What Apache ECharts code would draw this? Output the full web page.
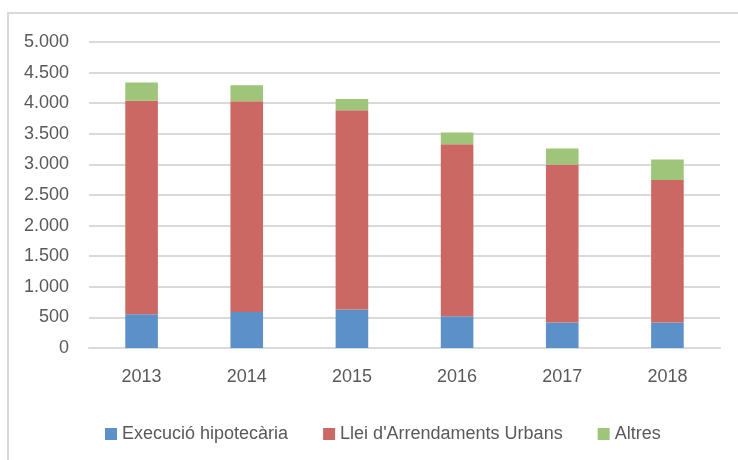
<!DOCTYPE html>
<html>
<head>
<meta charset="utf-8">
<script src="https://cdn.jsdelivr.net/npm/echarts@6/dist/echarts.min.js"></script>
<style>
  html, body { margin: 0; padding: 0; background: #fff; }
  #chart { width: 738px; height: 460px; }
</style>
</head>
<body>
<div id="chart"></div>
<script>
const years = ["2013", "2014", "2015", "2016", "2017", "2018"];
const seriesNames = ["Execució hipotecària", "Llei d'Arrendaments Urbans", "Altres"];
const execucio = [550, 590, 630, 520, 415, 415];
const llei = [3490, 3440, 3255, 2810, 2585, 2330];
const altres = [300, 265, 185, 190, 260, 335];

const font = "'Liberation Sans Narrow', 'Arial Narrow', 'Liberation Sans', sans-serif";
const textColor = "#595959";
const lineColor = "#d9d9d9";

const chart = echarts.init(document.getElementById("chart"));

// miles amb punt: 5000 -> 5.000
const fmt = (v) => String(v).replace(/\B(?=(\d{3})+(?!\d))/g, ".");

const option = {
  animation: false,
  color: ["#5b90c8", "#cc6864", "#9fc57a"],
  graphic: [
    {
      type: "rect",
      shape: { x: 8, y: 13, width: 760, height: 480 },
      style: { fill: "none", stroke: lineColor, lineWidth: 2 },
    },
  ],
  grid: {
    left: 89,
    right: 18,
    top: 42,
    bottom: 112,
  },
  legend: {
    data: seriesNames,
    bottom: 12,
    left: 100,
    itemWidth: 12,
    itemHeight: 12,
    itemGap: 35,
    icon: "rect",
    textStyle: { fontFamily: font, fontSize: 18, color: textColor },
  },
  xAxis: {
    type: "category",
    data: years,
    axisLine: { show: true, lineStyle: { color: lineColor, width: 2 } },
    axisTick: { show: false },
    axisLabel: { margin: 20, fontFamily: font, fontSize: 18, color: textColor },
  },
  yAxis: {
    type: "value",
    min: 0,
    max: 5000,
    interval: 500,
    axisLine: { show: false },
    axisTick: { show: false },
    axisLabel: { margin: 20, fontFamily: font, fontSize: 18, color: textColor, formatter: fmt },
    splitLine: { lineStyle: { color: lineColor, width: 2 } },
  },
  series: [
    { name: seriesNames[0], type: "bar", stack: "total", barWidth: "31%", data: execucio },
    { name: seriesNames[1], type: "bar", stack: "total", data: llei },
    { name: seriesNames[2], type: "bar", stack: "total", data: altres },
  ],
};

chart.setOption(option);
</script>
</body>
</html>
